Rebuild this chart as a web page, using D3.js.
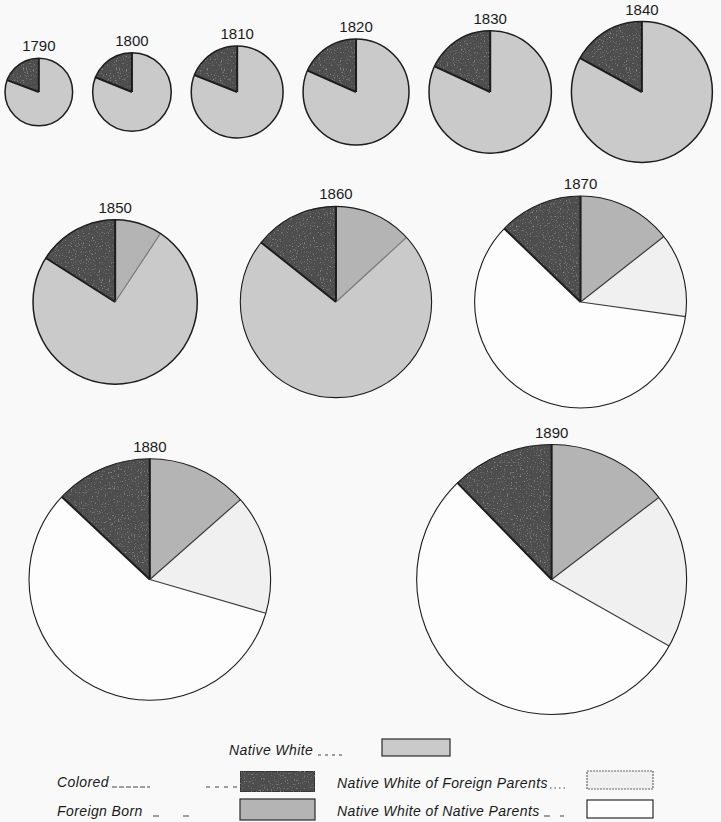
<!DOCTYPE html>
<html>
<head>
<meta charset="utf-8">
<script src="https://cdn.jsdelivr.net/npm/d3@7"></script>
<style>
  html, body { margin: 0; padding: 0; background: #f9f9f9; }
  svg { display: block; }
  .year-label { font-family: "Liberation Sans", Arial, sans-serif; font-size: 15px; fill: #1a1a1a; text-anchor: middle; }
  .legend-label { font-family: "Liberation Sans", Arial, sans-serif; font-style: italic; font-size: 14px; letter-spacing: 0.4px; fill: #1a1a1a; }
</style>
</head>
<body>
<div class="chart"></div>
<script>

// census years and total population (millions)
const years = [1790, 1800, 1810, 1820, 1830, 1840, 1850, 1860, 1870, 1880, 1890]
const population = [3.93, 5.31, 7.24, 9.64, 12.87, 17.07, 23.19, 31.44, 38.56, 50.16, 62.62]

// shares of the population, per cent
const foreignBorn = [0, 0, 0, 0, 0, 0, 9.3, 13.2, 14.4, 13.5, 14.6]
const nativeWhite = [80.7, 81.1, 81.0, 81.6, 81.9, 83.0, 74.7, 72.5, 0, 0, 0]
const nwForeignParents = [0, 0, 0, 0, 0, 0, 0, 0, 12.8, 16.0, 18.6]
const nwNativeParents = [0, 0, 0, 0, 0, 0, 0, 0, 60.0, 57.5, 54.5]
const colored = [19.3, 18.9, 19.0, 18.4, 18.1, 17.0, 16.0, 14.3, 12.8, 13.0, 12.3]

const categories = ['Foreign Born', 'Native White', 'Native White of Foreign Parents', 'Native White of Native Parents', 'Colored']
const series = [foreignBorn, nativeWhite, nwForeignParents, nwNativeParents, colored]

const colors = {
	'Foreign Born': '#b4b4b4',
	'Native White': '#cacaca',
	'Native White of Foreign Parents': '#f0f0f0',
	'Native White of Native Parents': '#fdfdfd',
	'Colored': '#4e4e4e'
}

// legend rows as printed
const legendLeft = ['Native White', 'Colored', 'Foreign Born']
const legendRight = ['Native White of Foreign Parents', 'Native White of Native Parents']

//-----------------------------------------

let width = 721
let height = 822

let svg = d3.select('.chart').append('svg')
.attr('width', width)
.attr('height', height)

svg.append('rect')
.attr('width', width)
.attr('height', height)
.attr('fill', '#f9f9f9')

// light speckles of the old print on the dark wedges
let defs = svg.append('defs')
let filter = defs.append('filter').attr('id', 'grain').attr('x', 0).attr('y', 0).attr('width', 1).attr('height', 1)
filter.append('feTurbulence').attr('type', 'fractalNoise').attr('baseFrequency', 0.7).attr('numOctaves', 2).attr('seed', 4).attr('result', 'noise')
filter.append('feColorMatrix').attr('in', 'noise').attr('type', 'matrix')
.attr('values', '0 0 0 0 0.55  0 0 0 0 0.55  0 0 0 0 0.55  1.6 0 0 0 -0.95').attr('result', 'spots')
filter.append('feComposite').attr('in', 'spots').attr('in2', 'SourceGraphic').attr('operator', 'in').attr('result', 'clip')
filter.append('feMerge').selectAll('feMergeNode').data(['SourceGraphic', 'clip']).enter().append('feMergeNode').attr('in', d => d)

let radius = d3.scaleSqrt()
.domain([0, d3.max(population)])
.range([0, 135])

// rows of pies: left edge of first pie, gap between pies, centre line
let rows = [
	{ years: years.slice(0, 6), x0: 5, gap: 20, cy: 92 },
	{ years: years.slice(6, 9), x0: 33, gap: 43, cy: 302 },
	{ years: years.slice(9), x0: 29, gap: 146, cy: 579.5 }
]

let pie = d3.pie()
.sort(null)
.value(d => d.value)

let arc = d3.arc().innerRadius(0)

let piesGroup = svg.append('g').attr('class', 'pies')

rows.map(row => {

	let x = row.x0

	row.years.map(year => {

		let i = years.indexOf(year)
		let r = radius(population[i])
		let cx = x + r
		x += 2 * r + row.gap

		let slices = categories
		.map((c, k) => ({ category: c, value: series[k][i] }))
		.filter(d => d.value > 0)

		let arcs = pie(slices)

		let g = piesGroup.append('g')
		.attr('class', 'pie')
		.attr('transform', 'translate(' + cx + ',' + row.cy + ')')

		g.selectAll('path')
		.data(arcs)
		.enter()
		.append('path')
		.attr('d', d => arc.outerRadius(r)(d))
		.attr('fill', d => colors[d.data.category])
		.attr('filter', d => d.data.category == 'Colored' ? 'url(#grain)' : null)

		// wedge boundaries: dark rules either side of the coloured wedge
		arcs.map(d => {
			let a = d.startAngle
			let next = d.data.category
			let prev = arcs[(d.index + arcs.length - 1) % arcs.length].data.category
			let heavy = next == 'Colored' || prev == 'Colored'
			g.append('line')
			.attr('x1', 0).attr('y1', 0)
			.attr('x2', r * Math.sin(a)).attr('y2', -r * Math.cos(a))
			.attr('stroke', heavy ? '#1c1c1c' : (next == 'Native White' ? '#777' : '#3a3a3a'))
			.attr('stroke-width', heavy ? 2 : 1.2)
		})

		g.append('circle')
		.attr('r', r)
		.attr('fill', 'none')
		.attr('stroke', '#1c1c1c')
		.attr('stroke-width', r < 90 ? 1.5 : 1.1)

		g.append('text')
		.attr('class', 'year-label')
		.attr('y', -r - 7)
		.text(year)
	})
})

//-----------------------------------------

// LEGEND

let legend = svg.append('g').attr('class', 'legend')

let leftRows = [
	{ tx: 229, ty: 755, sx: 382, sy: 739, sw: 68, sh: 17, leaders: [[318, 342, '3,4']] },
	{ tx: 57, ty: 787, sx: 240, sy: 771, sw: 75, sh: 21, leaders: [[112, 150, '5,2'], [206, 239, '4,5']] },
	{ tx: 57, ty: 816, sx: 240, sy: 799, sw: 75, sh: 21, leaders: [[153, 159, '6,0'], [183, 189, '6,0']] }
]

let rightRows = [
	{ tx: 337, ty: 788, sx: 587, sy: 771, sw: 66, sh: 18, leaders: [[550, 566, '1.5,3']] },
	{ tx: 337, ty: 816, sx: 587, sy: 800, sw: 66, sh: 18, leaders: [[544, 550, '6,0'], [560, 564, '4,0']] }
]

function drawLegendRow(name, pos) {

	legend.append('text')
	.attr('class', 'legend-label')
	.attr('x', pos.tx)
	.attr('y', pos.ty)
	.text(name)

	pos.leaders.map(l => {
		legend.append('line')
		.attr('x1', l[0]).attr('x2', l[1])
		.attr('y1', pos.ty).attr('y2', pos.ty)
		.attr('stroke', '#444')
		.attr('stroke-width', 1)
		.attr('stroke-dasharray', l[2])
	})

	legend.append('rect')
	.attr('x', pos.sx)
	.attr('y', pos.sy)
	.attr('width', pos.sw)
	.attr('height', pos.sh)
	.attr('fill', colors[name])
	.attr('filter', name == 'Colored' ? 'url(#grain)' : null)
	.attr('stroke', name == 'Native White of Foreign Parents' ? '#666' : '#2a2a2a')
	.attr('stroke-width', 1.2)
	.attr('stroke-dasharray', name == 'Native White of Foreign Parents' ? '2,1' : null)
}

legendLeft.map((name, i) => drawLegendRow(name, leftRows[i]))
legendRight.map((name, i) => drawLegendRow(name, rightRows[i]))

</script>
</body>
</html>
